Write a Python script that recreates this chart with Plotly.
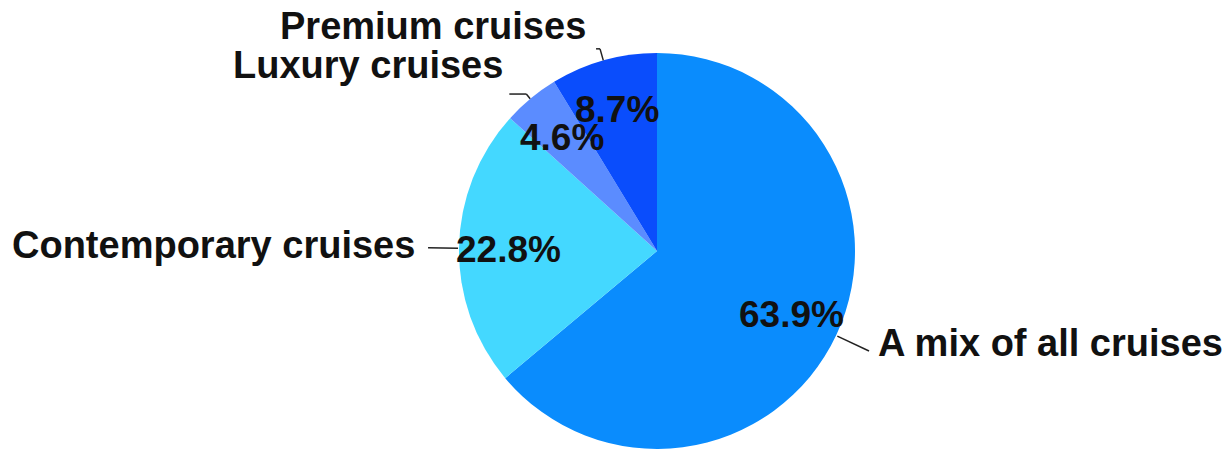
import math
import plotly.graph_objects as go

# Share of respondents by preferred cruise category
categories = ["A mix of all cruises", "Contemporary cruises", "Luxury cruises", "Premium cruises"]
shares = [63.9, 22.8, 4.6, 8.7]
colors = ["#0a8cfd", "#44d8ff", "#5b8cff", "#0a4dfc"]

W, H = 1226, 449
CX, CY, R = 657, 252, 198  # pie centre and radius in pixels (from top-left)

FONT = "Liberation Sans, Arial, sans-serif"
FS_LABEL = 38
FS_PCT = 37


def px(x, y):
    return x / W, 1 - y / H


def polar(frac_deg, r):
    a = math.radians(frac_deg)
    return CX + r * math.sin(a), CY - r * math.cos(a)


fig = go.Figure(
    go.Pie(
        labels=categories,
        values=shares,
        sort=False,
        direction="clockwise",
        rotation=0,
        marker=dict(colors=colors, line=dict(width=0)),
        textinfo="none",
        hoverinfo="label+percent",
        showlegend=False,
        domain=dict(x=[(CX - R) / W, (CX + R) / W], y=[0, 2 * R / H]),
    )
)

total = sum(shares)
mids = []
acc = 0.0
for v in shares:
    mids.append((acc + v / 2) / total * 360)
    acc += v

annotations = []
shapes = []

# percentage labels inside each slice
for v, m in zip(shares, mids):
    x, y = polar(m, 0.75 * R)
    ax, ay = px(x, y)
    annotations.append(dict(
        x=ax, y=ay, xref="paper", yref="paper", text=f"<b>{v}%</b>",
        showarrow=False, xanchor="center", yanchor="middle",
        font=dict(family=FONT, size=FS_PCT, color="#111111"),
    ))

# outer category labels with leader lines
# per slice: (radial line length, horizontal tail, text dx, text dy, anchor)
guides = [
    (35, 0, 7, -8, "left"),
    (30, 0, -11, -3, "right"),
    (6, -17, -4, -29, "right"),
    (12, -4, -8, -23, "right"),
]
for name, m, (l1, l2, tdx, tdy, anchor) in zip(categories, mids, guides):
    x0, y0 = polar(m, R + 1)
    x1, y1 = polar(m, R + 1 + l1)
    x2, y2 = x1 + l2, y1
    for (a, b), (c, d) in [((x0, y0), (x1, y1)), ((x1, y1), (x2, y2))]:
        if abs(a - c) + abs(b - d) < 0.5:
            continue
        p0 = px(a, b)
        p1 = px(c, d)
        shapes.append(dict(type="line", xref="paper", yref="paper",
                           x0=p0[0], y0=p0[1], x1=p1[0], y1=p1[1],
                           line=dict(color="#222222", width=1.5)))
    tx, ty = px(x2 + tdx, y2 + tdy)
    annotations.append(dict(
        x=tx, y=ty, xref="paper", yref="paper", text=f"<b>{name}</b>",
        showarrow=False, xanchor=anchor, yanchor="middle",
        font=dict(family=FONT, size=FS_LABEL, color="#111111"),
    ))

fig.update_layout(
    width=W, height=H,
    margin=dict(l=0, r=0, t=0, b=0),
    paper_bgcolor="white",
    plot_bgcolor="white",
    annotations=annotations,
    shapes=shapes,
)

fig.write_html("out.html")
